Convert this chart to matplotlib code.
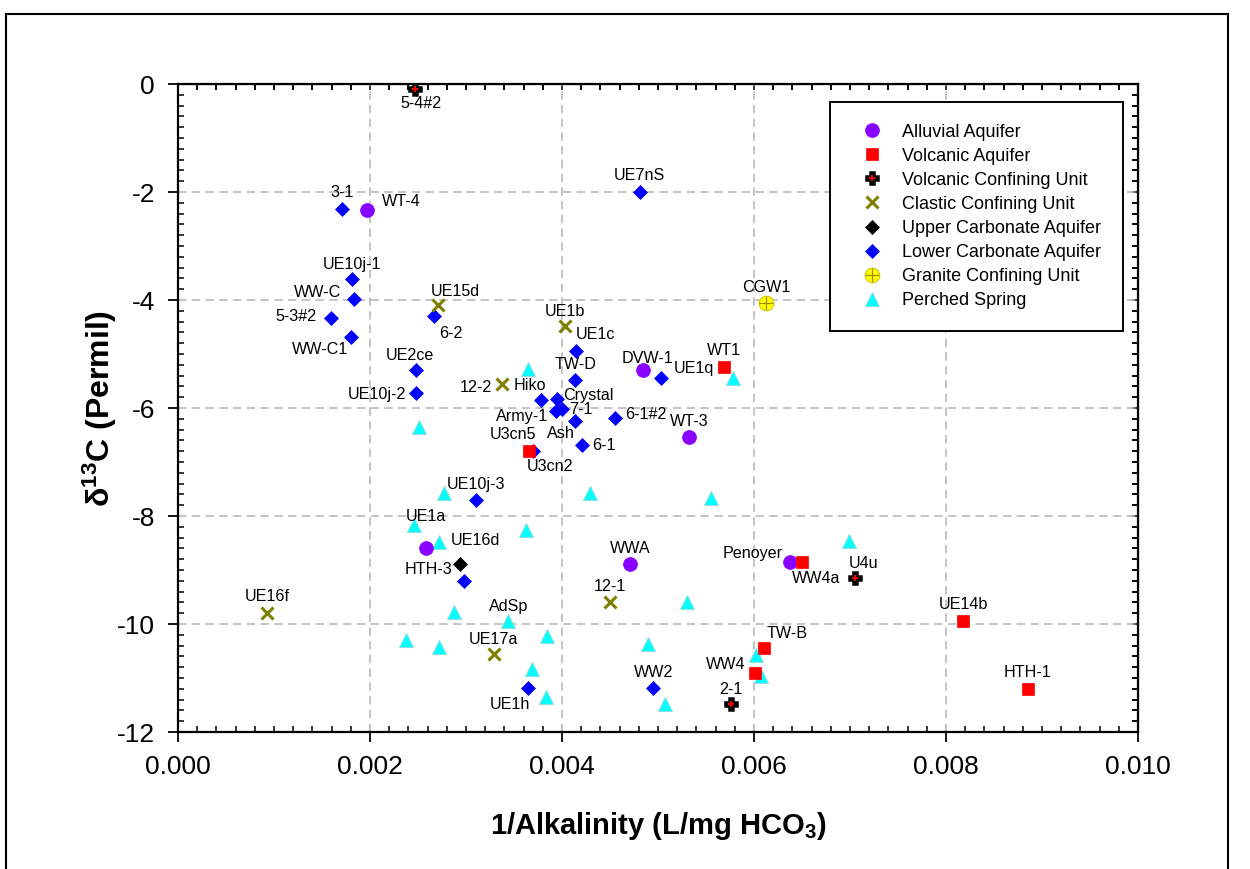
import matplotlib
matplotlib.use('Agg')
import matplotlib.pyplot as plt
from matplotlib.ticker import MultipleLocator, FormatStrFormatter
from matplotlib.lines import Line2D

plt.rcParams['font.family'] = ['Liberation Sans', 'DejaVu Sans']
plt.rcParams['axes.unicode_minus'] = False
plt.rcParams['mathtext.fontset'] = 'custom'
plt.rcParams['mathtext.rm'] = 'Liberation Sans'
plt.rcParams['mathtext.bf'] = 'Liberation Sans:bold'
plt.rcParams['mathtext.it'] = 'Liberation Sans:italic'

# ---------------- data ----------------
alluvial_x = [0.00197, 0.00484, 0.00532, 0.00258, 0.00471, 0.00637]
alluvial_y = [-2.33, -5.30, -6.54, -8.59, -8.89, -8.85]
alluvial_names = ['WT-4', 'DVW-1', 'WT-3', None, 'WWA', 'Penoyer']

volc_x = [0.00569, 0.00366, 0.00650, 0.00610, 0.00601, 0.00818, 0.00885]
volc_y = [-5.24, -6.79, -8.85, -10.44, -10.90, -9.94, -11.20]
volc_names = ['WT1', 'U3cn5', 'WW4a', 'TW-B', 'WW4', 'UE14b', 'HTH-1']

vcu_x = [0.00247, 0.00705, 0.00576]
vcu_y = [-0.10, -9.15, -11.49]
vcu_names = ['5-4#2', 'U4u', '2-1']

clastic_x = [0.00271, 0.00403, 0.00337, 0.00093, 0.00329, 0.00450]
clastic_y = [-4.09, -4.49, -5.56, -9.80, -10.56, -9.60]
clastic_names = ['UE15d', 'UE1b', '12-2', 'UE16f', 'UE17a', '12-1']

upper_x = [0.00294]
upper_y = [-8.89]
upper_names = ['HTH-3']

lower_x = [0.00171, 0.00481, 0.00181, 0.00183, 0.00159, 0.00267, 0.00180, 0.00415,
           0.00248, 0.00248, 0.00414, 0.00378, 0.00395, 0.00400, 0.00394, 0.00414,
           0.00455, 0.00421, 0.00370, 0.00310, 0.00298, 0.00365, 0.00495, 0.00503]
lower_y = [-2.31, -2.00, -3.62, -3.98, -4.34, -4.30, -4.68, -4.94,
           -5.30, -5.73, -5.49, -5.85, -5.84, -6.01, -6.06, -6.24,
           -6.18, -6.69, -6.79, -7.70, -9.20, -11.19, -11.19, -5.44]
lower_names = ['3-1', 'UE7nS', 'UE10j-1', 'WW-C', '5-3#2', '6-2', 'WW-C1', 'UE1c',
               'UE2ce', 'UE10j-2', 'TW-D', 'Hiko', 'Crystal', '7-1', 'Army-1', 'Ash',
               '6-1#2', '6-1', 'U3cn2', 'UE10j-3', None, 'UE1h', 'WW2', 'UE1q']

granite_x = [0.00613]
granite_y = [-4.05]
granite_names = ['CGW1']

perched_x = [0.00365, 0.00578, 0.00251, 0.00277, 0.00429, 0.00555, 0.00246, 0.00272,
             0.00363, 0.00699, 0.00287, 0.00344, 0.00530, 0.00238, 0.00272, 0.00384,
             0.00490, 0.00369, 0.00383, 0.00507, 0.00602, 0.00607]
perched_y = [-5.27, -5.44, -6.36, -7.57, -7.57, -7.67, -8.17, -8.48,
             -8.26, -8.47, -9.77, -9.94, -9.59, -10.30, -10.42, -10.23,
             -10.37, -10.83, -11.36, -11.49, -10.57, -10.96]
perched_names = [None, None, None, None, None, None, 'UE1a', 'UE16d',
                 None, None, None, 'AdSp', None, None, None, None,
                 None, None, None, None, None, None]

x_ticks = [0.000, 0.002, 0.004, 0.006, 0.008, 0.010]
y_ticks = [0, -2, -4, -6, -8, -10, -12]

# label offsets (pixels: right, down)
label_offsets = {
    '5-4#2': (6, 14), '3-1': (0, -16), 'WT-4': (34, -8), 'UE10j-1': (0, -15),
    'WW-C': (-36, -6), 'UE15d': (17, -13), '5-3#2': (-35, -2), '6-2': (17, 17),
    'WW-C1': (-31, 13), 'UE1b': (0, -15), 'UE1c': (19, -16), 'UE7nS': (0, -16),
    'CGW1': (0, -15), 'UE2ce': (-6, -15), 'UE10j-2': (-39, 1), 'TW-D': (0, -16),
    '12-2': (-26, 3), 'Hiko': (-11, -14), 'Crystal': (31, -4), '7-1': (19, 1),
    'Army-1': (-34, 5), 'Ash': (-15, 13), '6-1#2': (31, -3), '6-1': (22, 0),
    'U3cn5': (-16, -16), 'U3cn2': (17, 16), 'DVW-1': (5, -12), 'UE1q': (33, -9),
    'WT1': (0, -16), 'WT-3': (1, -16), 'UE10j-3': (0, -15), 'UE1a': (12, -9),
    'UE16d': (36, -1), 'HTH-3': (-32, 5), 'UE16f': (0, -17), 'AdSp': (0, -14),
    'UE17a': (0, -15), 'UE1h': (-18, 16), 'WWA': (0, -16), '12-1': (0, -16),
    'WW2': (0, -16), '2-1': (0, -15), 'WW4': (-29, -8), 'TW-B': (24, -14),
    'Penoyer': (-37, -8), 'WW4a': (14, 17), 'U4u': (9, -15), 'UE14b': (0, -16),
    'HTH-1': (0, -16),
}

# ---------------- figure ----------------
W, H = 1250, 869
fig = plt.figure(figsize=(12.5, 8.69), dpi=100)
ax = fig.add_axes([178 / W, 1 - 732 / H, (1138 - 178) / W, (732 - 84) / H])

ax.set_xlim(0, 0.010)
ax.set_ylim(-12, 0)

lab_kw = dict(fontsize=11.6, color='black', ha='center', va='center',
              textcoords='offset pixels', zorder=6)


def label(xs, ys, names):
    for xv, yv, n in zip(xs, ys, names):
        if n is None:
            continue
        dx, dy = label_offsets[n]
        ax.annotate(n, (xv, yv), xytext=(dx, -dy), **lab_kw)


h_per, = ax.plot(perched_x, perched_y, ls='none', marker='^', ms=10.5,
                 mfc='#00ffff', mec='#8fdede', mew=0.8, zorder=3)
h_low, = ax.plot(lower_x, lower_y, ls='none', marker='D', ms=7.5,
                 mfc='#0000ff', mec='#0000ff', mew=0.5, zorder=3.1)
h_all, = ax.plot(alluvial_x, alluvial_y, ls='none', marker='o', ms=10,
                 mfc='#8800ff', mec='#8800ff', mew=0.5, zorder=3.2)
h_cla, = ax.plot(clastic_x, clastic_y, ls='none', marker='x', ms=8.5,
                 mec='#808000', mew=2.2, zorder=3.3)
h_up, = ax.plot(upper_x, upper_y, ls='none', marker='D', ms=7.5,
                mfc='black', mec='black', mew=0.5, zorder=3.4)
h_vol, = ax.plot(volc_x, volc_y, ls='none', marker='s', ms=8.3,
                 mfc='#ff0000', mec='#ff0000', mew=0.5, zorder=3.5)
h_vcu1, = ax.plot(vcu_x, vcu_y, ls='none', marker='P', ms=9,
                  mfc='black', mec='black', mew=1.8, zorder=3.6)
h_vcu2, = ax.plot(vcu_x, vcu_y, ls='none', marker='+', ms=5,
                  mec='#ff0000', mew=1.4, zorder=3.7)
h_gr1, = ax.plot(granite_x, granite_y, ls='none', marker='o', ms=10.5,
                 mfc='#ffff00', mec='#d8c800', mew=0.8, zorder=3.6)
h_gr2, = ax.plot(granite_x, granite_y, ls='none', marker='+', ms=10.5,
                 mec='#a09000', mew=0.9, zorder=3.7)

label(alluvial_x, alluvial_y, alluvial_names)
label(volc_x, volc_y, volc_names)
label(vcu_x, vcu_y, vcu_names)
label(clastic_x, clastic_y, clastic_names)
label(upper_x, upper_y, upper_names)
label(lower_x, lower_y, lower_names)
label(granite_x, granite_y, granite_names)
label(perched_x, perched_y, perched_names)

# grid
ax.set_xticks(x_ticks)
ax.set_yticks(y_ticks)
ax.grid(True, which='major', color='#b4b4b4', ls=(0, (5.5, 3.5)), lw=1.1)
ax.set_axisbelow(True)

# ticks
ax.xaxis.set_minor_locator(MultipleLocator(0.0002))
ax.yaxis.set_minor_locator(MultipleLocator(0.2))
ax.xaxis.set_major_formatter(FormatStrFormatter('%.3f'))
ax.yaxis.set_major_formatter(FormatStrFormatter('%d'))
ax.tick_params(which='major', direction='out', length=7.5, width=1.3,
               labelsize=19, pad=9, colors='black')
ax.tick_params(which='minor', direction='in', length=4.5, width=1.1,
               top=True, right=True)
for s in ax.spines.values():
    s.set_linewidth(1.6)

secx = ax.secondary_xaxis('top')
secx.set_xticks(x_ticks)
secx.xaxis.set_minor_locator(MultipleLocator(0.0002))
secx.tick_params(which='both', direction='in', labeltop=False, length=4.5, width=1.1)
secy = ax.secondary_yaxis('right')
secy.set_yticks(y_ticks)
secy.yaxis.set_minor_locator(MultipleLocator(0.2))
secy.tick_params(which='both', direction='in', labelright=False, length=4.5, width=1.1)

# axis labels
fig.text(658 / W, 1 - 826 / H, r'1/Alkalinity (L/mg HCO$_{\mathbf{3}}$)',
         fontsize=21, fontweight='bold', ha='center', va='center')
fig.text(100 / W, 1 - 408 / H, r'δ$^{\mathbf{13}}$C (Permil)',
         fontsize=23, fontweight='bold', ha='center', va='center', rotation=90)

# legend
handles = [h_all, h_vol, (h_vcu1, h_vcu2), h_cla, h_up, h_low, (h_gr1, h_gr2), h_per]
names = ['Alluvial Aquifer', 'Volcanic Aquifer', 'Volcanic Confining Unit',
         'Clastic Confining Unit', 'Upper Carbonate Aquifer',
         'Lower Carbonate Aquifer', 'Granite Confining Unit', 'Perched Spring']
leg = ax.legend(handles, names, loc='upper left', bbox_to_anchor=(830 / W, 1 - 102 / H),
                bbox_transform=fig.transFigure, borderaxespad=0, fontsize=13,
                frameon=True, fancybox=False, framealpha=1, edgecolor='black',
                borderpad=1.2, handlelength=2.2, handletextpad=0.6,
                labelspacing=0.39, numpoints=1)
leg.get_frame().set_linewidth(1.4)
leg.set_zorder(10)

# outer frame
fr = dict(transform=fig.transFigure, color='black', lw=1.5)
fig.add_artist(Line2D([6 / W, 6 / W], [0, 1 - 14 / H], **fr))
fig.add_artist(Line2D([6 / W, 1228 / W], [1 - 14 / H, 1 - 14 / H], **fr))
fig.add_artist(Line2D([1228 / W, 1228 / W], [0, 1 - 14 / H], **fr))

fig.savefig('out.png', dpi=100)
